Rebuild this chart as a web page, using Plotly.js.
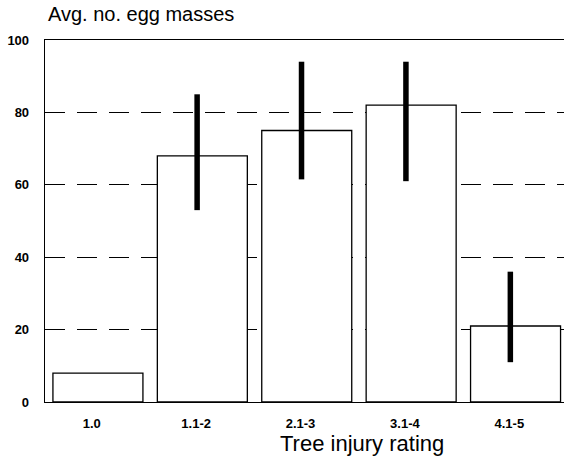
<!DOCTYPE html>
<html>
<head>
<meta charset="utf-8">
<script src="https://cdn.plot.ly/plotly-3.0.1.min.js"></script>
<style>html,body{margin:0;padding:0;background:#fff;}#chart{width:564px;height:456px;}</style>
</head>
<body>
<div id="chart"></div>
<script>
var categories = ["1.0", "1.1-2", "2.1-3", "3.1-4", "4.1-5"];
var eggMasses = [8, 68, 75, 82, 21];
var errPlus = [0, 17, 19, 12, 15];
var errMinus = [0, 15, 13.5, 21, 10];
var yTicks = [0, 20, 40, 60, 80, 100];

var FONT = "Liberation Sans, Arial, Helvetica, sans-serif";

var bars = {
  type: "bar",
  x: categories,
  y: eggMasses,
  width: 0.862,
  offset: -0.381,
  marker: {color: "#ffffff", line: {color: "#000000", width: 1.3}},
  hoverinfo: "x+y",
  showlegend: false
};

var errs = {
  type: "scatter",
  mode: "markers",
  x: categories,
  y: eggMasses,
  marker: {size: 1, color: "rgba(0,0,0,0)"},
  error_y: {
    type: "data", symmetric: false,
    array: errPlus, arrayminus: errMinus,
    color: "#000000", thickness: 5.5, width: 0
  },
  hoverinfo: "skip",
  showlegend: false
};

var layout = {
  width: 564, height: 456,
  margin: {l: 45, r: 0, t: 40, b: 54, pad: 0},
  paper_bgcolor: "#ffffff",
  plot_bgcolor: "#ffffff",
  font: {family: FONT, color: "#000000"},
  title: {
    text: "Avg. no. egg masses",
    font: {family: FONT, size: 20, color: "#000000"},
    xref: "container", yref: "container",
    x: 0.085, xanchor: "left",
    y: 0.985, yanchor: "top"
  },
  xaxis: {
    type: "category",
    range: [-0.457, 4.514],
    showline: true, mirror: true, linecolor: "#000000", linewidth: 1.3,
    showgrid: false, zeroline: false,
    ticks: "", ticklabelstandoff: 9, ticklabelshift: -1,
    tickfont: {family: FONT, size: 13, color: "#000000", weight: "bold"},
    fixedrange: true
  },
  yaxis: {
    range: [0, 100],
    tickvals: yTicks,
    ticktext: yTicks.map(String),
    showline: true, linecolor: "#000000", linewidth: 1.3,
    showgrid: true, gridcolor: "#000000", gridwidth: 1.1, griddash: "20px,12px",
    zeroline: false,
    ticks: "", ticklabelstandoff: 12,
    tickfont: {family: FONT, size: 13, color: "#000000", weight: "bold"},
    fixedrange: true
  },
  annotations: [{
    text: "Tree injury rating",
    xref: "paper", yref: "paper",
    x: (362 - 45) / 519, y: -0.075,
    xanchor: "center", yanchor: "top",
    showarrow: false,
    font: {family: FONT, size: 22, color: "#000000"}
  }]
};

Plotly.newPlot("chart", [bars, errs], layout, {displayModeBar: false, staticPlot: true});
</script>
</body>
</html>
